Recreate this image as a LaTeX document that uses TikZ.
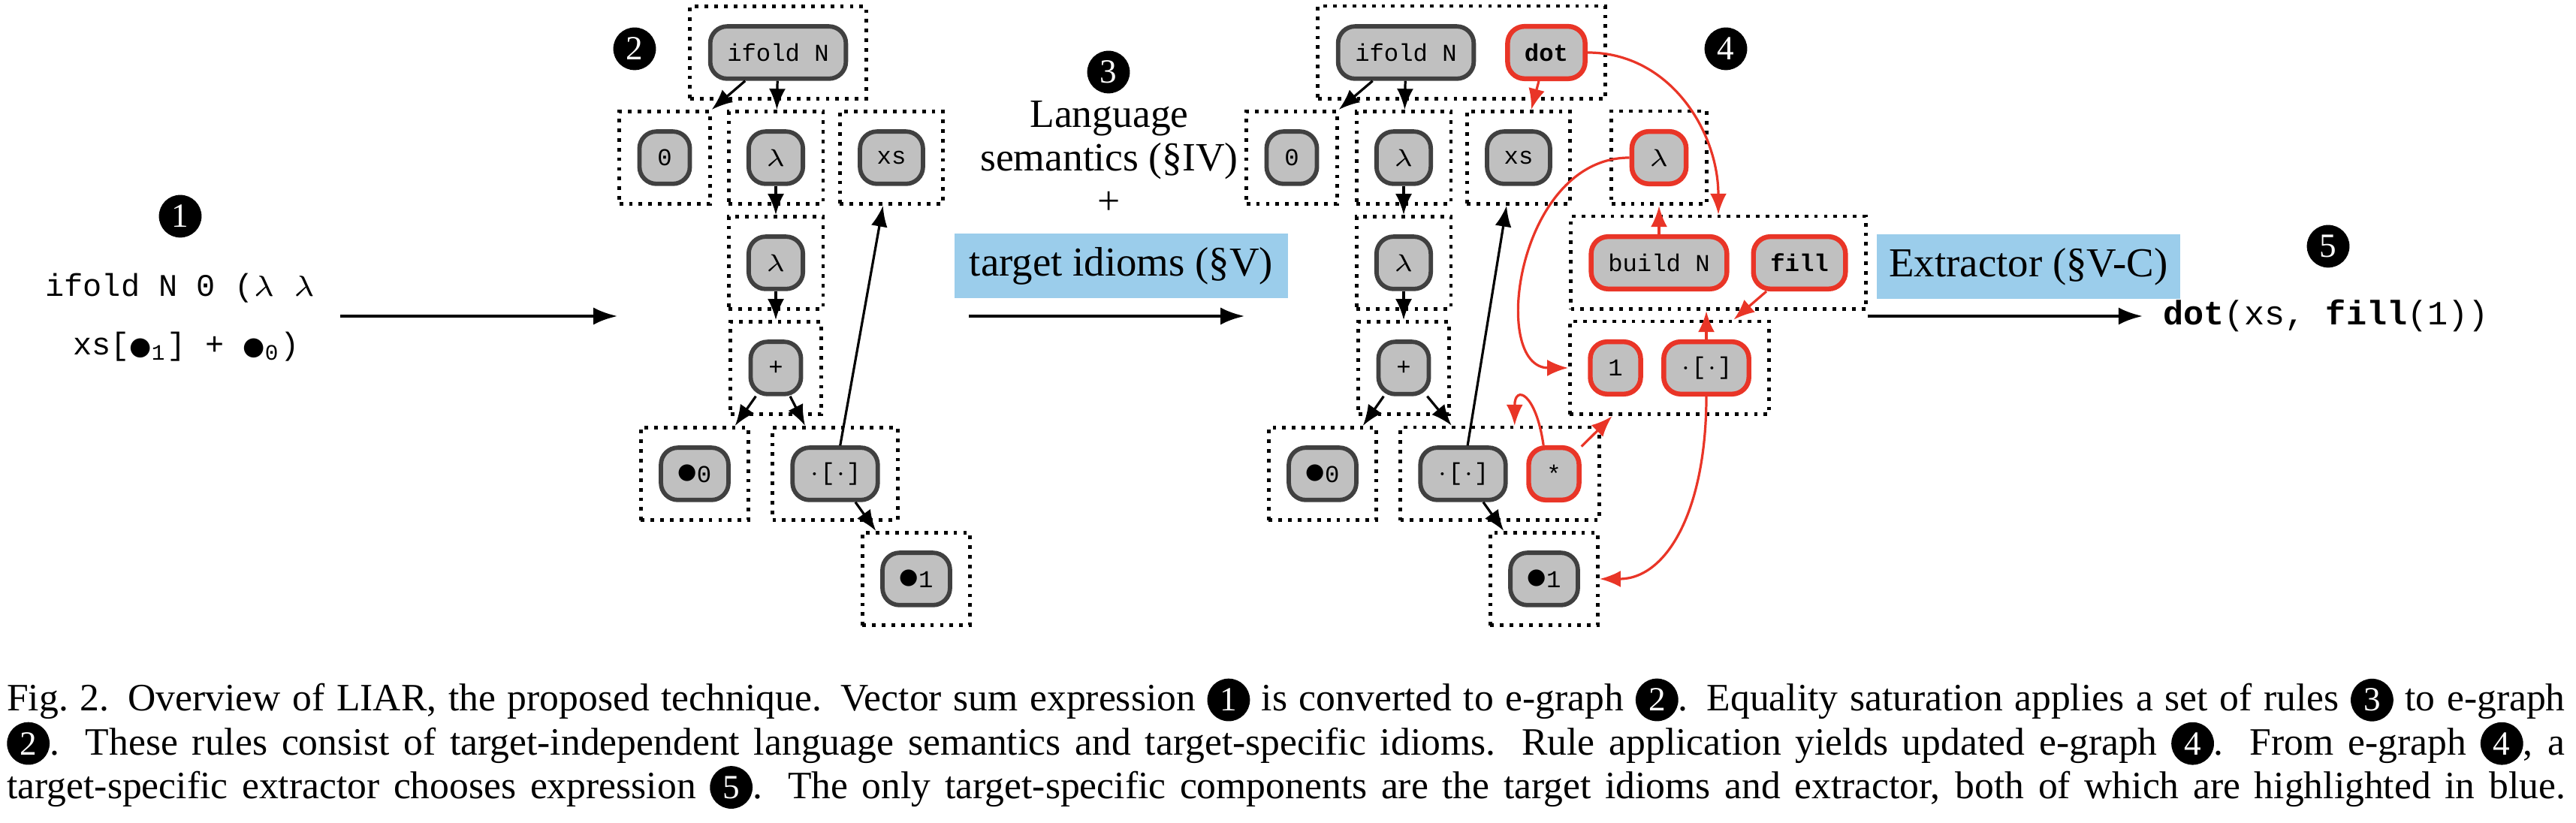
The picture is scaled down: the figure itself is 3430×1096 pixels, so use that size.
\documentclass[tikz,border=0pt]{standalone}
\usepackage{fontspec}
\setmainfont{Liberation Serif}
\setmonofont{Liberation Mono}
\newfontfamily\symfont{DejaVu Sans}
\usetikzlibrary{arrows.meta,fit}

\definecolor{nodegray}{RGB}{64,64,64}
\definecolor{nodefill}{RGB}{192,192,192}
\definecolor{rulered}{RGB}{233,53,39}
\definecolor{idiomblue}{RGB}{155,205,235}

% pattern variable (filled dot with an index)
\newcommand{\hole}[1]{{\fontsize{4.5}{4.5}\selectfont\symfont ●}\raisebox{-0.8pt}{#1}}
\newcommand{\exprhole}[1]{{\fontsize{5.2}{5.2}\selectfont\symfont ●}\textsubscript{#1}}
\newcommand{\cnum}[1]{\tikz[baseline=(c.base)]\node[numdot] (c) {#1};}

\tikzset{
  enode/.style={draw=nodegray, line width=0.9pt, fill=nodefill, rounded corners=3.5pt,
    minimum width=10.4pt, minimum height=10.8pt, inner xsep=3.5pt, inner ysep=0pt,
    font=\fontsize{5}{6}\selectfont\ttfamily},
  newnode/.style={enode, draw=rulered, line width=1pt},
  eclass/.style={draw, line width=0.75pt, dash pattern=on 0.75pt off 1.25pt, inner sep=3.7pt},
  link/.style={-{Latex[length=4.3pt,width=3.4pt]}, line width=0.5pt},
  newlink/.style={link, draw=rulered},
  stage/.style={-{Latex[length=5pt,width=3.6pt]}, line width=0.7pt},
  numdot/.style={circle, fill=black, text=white, inner sep=0pt, minimum size=8.8pt,
    font=\fontsize{7}{8}\selectfont},
  exprtext/.style={inner sep=0pt, font=\fontsize{6.5}{8}\selectfont\ttfamily},
  ruletext/.style={inner sep=0pt, font=\fontsize{8.3}{9}\selectfont},
  idiom/.style={fill=idiomblue, inner sep=0pt, minimum height=13.4pt,
    font=\fontsize{8.5}{9}\selectfont},
  figcaption/.style={inner sep=0pt, text width=528pt, align=justify,
    font=\fontsize{8}{9}\selectfont}
}

\begin{document}
\begin{tikzpicture}[x=0.155pt,y=-0.155pt]
  \useasboundingbox (0,0) rectangle (3430,1096);

  % Input expression:
  \node[numdot] (num1) at (240,288) {1};
  \node[exprtext, anchor=base] (expr1) at (240,395) {ifold N 0 ($\lambda$ $\lambda$};
  \node[exprtext, anchor=base] (expr2) at (248,473) {xs[\exprhole{1}] + \exprhole{0})};
  \coordinate (in1) at (453,421);

  % E-graph before saturation:
  \begin{scope}
    \node[numdot] (num2) at (845,65) {2};
    \node[enode] (ifold2) at (1036,70) {ifold N};
    \node[enode] (zero2) at (885,210) {0};
    \node[enode] (lamA2) at (1033,210) {$\lambda$};
    \node[enode] (xs2) at (1187,210) {xs};
    \node[enode] (lamB2) at (1033,350) {$\lambda$};
    \node[enode] (plus2) at (1033,490) {+};
    \node[enode] (h0-2) at (925,631) {\hole{0}};
    \node[enode] (idx2) at (1112,631) {$\cdot$[$\cdot$]};
    \node[enode] (h1-2) at (1220,771) {\hole{1}};

    % e-classes
    \node[eclass, fit=(ifold2)] (c-ifold2) {};
    \node[eclass, fit=(zero2)] (c-zero2) {};
    \node[eclass, fit=(lamA2)] (c-lamA2) {};
    \node[eclass, fit=(xs2)] (c-xs2) {};
    \node[eclass, fit=(lamB2)] (c-lamB2) {};
    \node[eclass, fit=(plus2)] (c-plus2) {};
    \node[eclass, fit=(h0-2)] (c-h0-2) {};
    \node[eclass, fit=(idx2)] (c-idx2) {};
    \node[eclass, fit=(h1-2)] (c-h1-2) {};

    \draw[link] (ifold2) -- (c-zero2.north east);
    \draw[link] (ifold2) -- (c-lamA2);
    \draw[link] (lamA2) -- (c-lamB2);
    \draw[link] (lamB2) -- (c-plus2);
    \draw[link] (plus2) -- (c-h0-2.50);
    \draw[link] (plus2) -- (c-idx2.122);
    \draw[link] (idx2) -- (c-h1-2.130);
    \draw[link] (idx2) -- (c-xs2.260);
  \end{scope}

  \draw[stage] (in1) -- (in1 -| c-zero2.west);

  % Rewrite rules:
  \node[numdot] (num3) at (1476,96) {3};
  \node[ruletext, anchor=base] (lang) at (1477,170) {Language};
  \node[ruletext, anchor=base] (sem) at (1477,228) {semantics (§IV)};
  \node[ruletext, anchor=base] (and) at (1477,286) {+};
  \node[idiom, minimum width=68.8pt] (idioms) at (1493,354) {target idioms (§V)};
  \coordinate (in2) at (1290,421);

  % E-graph after saturation:
  \begin{scope}
    \node[numdot] (num4) at (2298,65) {4};
    \node[enode] (ifold4) at (1872,70) {ifold N};
    \node[newnode] (dot4) at (2059,70) {\textbf{dot}};
    \node[enode] (zero4) at (1720,210) {0};
    \node[enode] (lamA4) at (1869,210) {$\lambda$};
    \node[enode] (xs4) at (2022,210) {xs};
    \node[newnode] (lamR4) at (2209,210) {$\lambda$};
    \node[enode] (lamB4) at (1869,350) {$\lambda$};
    \node[newnode] (bN4) at (2209,350) {build N};
    \node[newnode] (fill4) at (2396,350) {\textbf{fill}};
    \node[enode] (plus4) at (1869,490) {+};
    \node[newnode] (one4) at (2151,490) {1};
    \node[newnode] (rdx4) at (2272,490) {$\cdot$[$\cdot$]};
    \node[enode] (h0-4) at (1761,631) {\hole{0}};
    \node[enode] (idx4) at (1948,631) {$\cdot$[$\cdot$]};
    \node[newnode] (star4) at (2069,631) {*};
    \node[enode] (h1-4) at (2056,771) {\hole{1}};

    % e-classes
    \node[eclass, fit=(ifold4) (dot4)] (c-ifold4) {};
    \node[eclass, fit=(zero4)] (c-zero4) {};
    \node[eclass, fit=(lamA4)] (c-lamA4) {};
    \node[eclass, fit=(xs4)] (c-xs4) {};
    \node[eclass, fit=(lamR4)] (c-lamR4) {};
    \node[eclass, fit=(lamB4)] (c-lamB4) {};
    \node[eclass, fit=(bN4) (fill4)] (c-bf4) {};
    \node[eclass, fit=(plus4)] (c-plus4) {};
    \node[eclass, fit=(one4) (rdx4)] (c-r3) {};
    \node[eclass, fit=(h0-4)] (c-h0-4) {};
    \node[eclass, fit=(idx4) (star4)] (c-is4) {};
    \node[eclass, fit=(h1-4)] (c-h1-4) {};

    \draw[link] (ifold4) -- (c-zero4.north east);
    \draw[link] (ifold4) -- (c-lamA4);
    \draw[link] (lamA4) -- (c-lamB4);
    \draw[link] (lamB4) -- (c-plus4);
    \draw[link] (plus4) -- (c-h0-4.50);
    \draw[link] (plus4) -- (c-is4.135);
    \draw[link] (idx4) -- (c-h1-4.130);
    \draw[link] (idx4) -- (c-xs4.256);

    % new nodes from the rules
    \draw[newlink] (dot4) -- (c-xs4);
    \draw[newlink] (dot4.east) .. controls +(110,0) and +(0,-110) .. (c-bf4.north);
    \draw[newlink] (bN4) -- (c-lamR4);
    \draw[newlink] (lamR4.west) .. controls +(-150,0) and +(-105,0) .. (c-r3.west);
    \draw[newlink] (fill4) -- (c-r3.37);
    \draw[newlink] (rdx4) -- (rdx4 |- c-bf4.south);
    \draw[newlink] (rdx4.south) .. controls +(0,150) and +(90,0) .. (c-h1-4.east);
    \draw[newlink] (star4) -- (c-r3.220);
    \draw[newlink] (star4.110) .. controls +(-10,-70) and +(0,-55) .. (c-is4.73);
  \end{scope}

  \draw[stage] (in2) -- (in2 -| c-zero4.west);

  % Extraction:
  \node[idiom, minimum width=62.5pt] (extr) at (2701,355) {Extractor (§V-C)};
  \node[numdot] (num5) at (3100,328) {5};
  \node[exprtext, anchor=west, inner xsep=4pt, font=\fontsize{7}{8}\selectfont\ttfamily] (res) at (2853,421) {\textbf{dot}(xs, \textbf{fill}(1))};
  \draw[stage] (c-bf4.east |- res.west) -- (res.west);

  % Caption:
  \node[figcaption, anchor=base west] (cap) at (8,947) {Fig.~2. Overview of LIAR, the proposed technique. Vector sum expression \cnum{1} is converted to e-graph \cnum{2}. Equality saturation applies a set of rules \cnum{3} to e-graph\linebreak
    \cnum{2}. These rules consist of target-independent language semantics and target-specific idioms. Rule application yields updated e-graph \cnum{4}. From e-graph \cnum{4}, a\linebreak
    target-specific extractor chooses expression \cnum{5}. The only target-specific components are the target idioms and extractor, both of which are highlighted in blue.\parfillskip=0pt\par};
\end{tikzpicture}
\end{document}
